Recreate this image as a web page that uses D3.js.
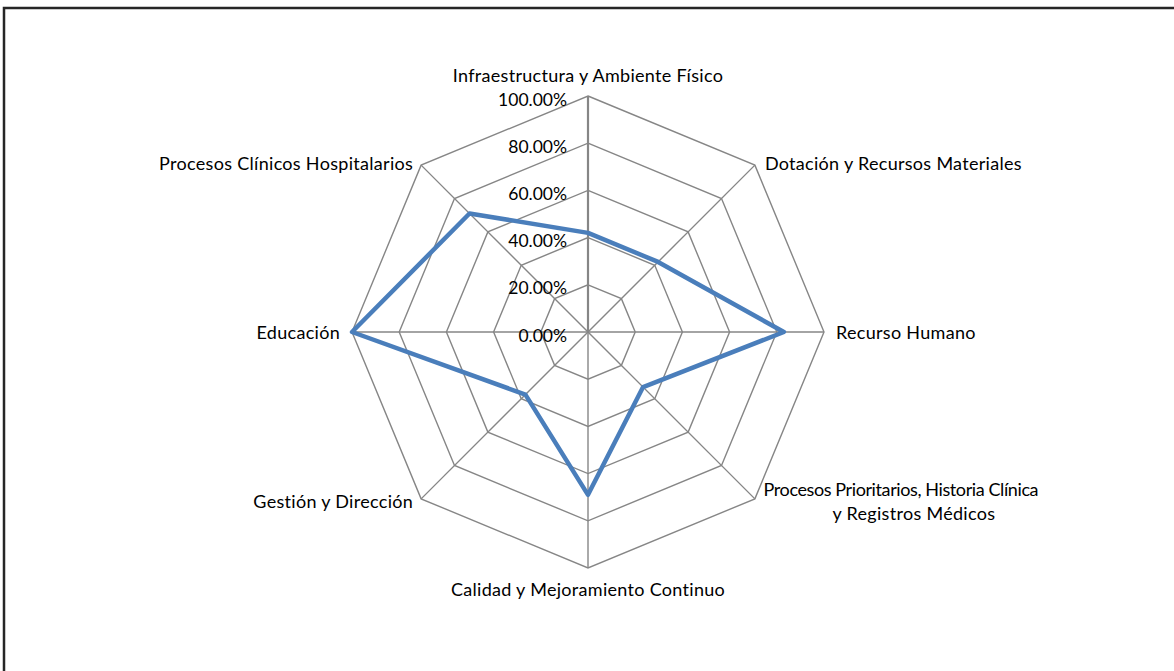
<!DOCTYPE html>
<html lang="es">
<head>
<meta charset="UTF-8">
<title>Radar</title>
<script src="https://d3js.org/d3.v7.min.js"></script>
<style>
  body { margin: 0; background: #fff; }
  svg text { font-family: "Lato", "Open Sans", sans-serif; fill: #000; }
</style>
</head>
<body>
<div id="chart"></div>
<script>
// categories, clockwise from the top
var categories = [
  "Infraestructura y Ambiente Físico",
  "Dotación y Recursos Materiales",
  "Recurso Humano",
  "Procesos Prioritarios, Historia Clínica|y Registros Médicos",
  "Calidad y Mejoramiento Continuo",
  "Gestión y Dirección",
  "Educación",
  "Procesos Clínicos Hospitalarios"
];
var values = [0.42, 0.42, 0.83, 0.33, 0.69, 0.375, 1.0, 0.71];
var ticks = [0, 0.2, 0.4, 0.6, 0.8, 1.0];

var width = 1174, height = 671;
var cx = 588, cy = 332, R = 236;

var svg = d3.select("#chart").append("svg")
    .attr("width", width)
    .attr("height", height);

// chart area border (right and bottom fall outside the picture)
svg.append("rect")
    .attr("x", 4).attr("y", 8)
    .attr("width", 1200).attr("height", 700)
    .attr("fill", "none")
    .attr("stroke", "#262626")
    .attr("stroke-width", 2.5);

var r = d3.scaleLinear().domain([0, 1]).range([0, R]);
var angle = d3.scaleLinear().domain([0, categories.length]).range([0, 2 * Math.PI]);

var g = svg.append("g").attr("transform", "translate(" + cx + "," + cy + ")");

// grid rings
var ring = d3.lineRadial().curve(d3.curveLinearClosed);
g.selectAll(".ring")
  .data(ticks.slice(1))
  .enter().append("path")
    .attr("d", function(t) {
      return ring(categories.map(function(c, i) { return [angle(i), r(t)]; }));
    })
    .attr("fill", "none")
    .attr("stroke", "#868686")
    .attr("stroke-width", 1.4);

// spokes
g.selectAll(".spoke")
  .data(categories)
  .enter().append("line")
    .attr("x1", 0).attr("y1", 0)
    .attr("x2", function(d, i) { return r(1) * Math.sin(angle(i)); })
    .attr("y2", function(d, i) { return -r(1) * Math.cos(angle(i)); })
    .attr("stroke", "#868686")
    .attr("stroke-width", function(d, i) { return i == 0 ? 2.2 : 1.4; });

// tick labels on the vertical axis
g.selectAll(".tick")
  .data(ticks)
  .enter().append("text")
    .attr("x", -21)
    .attr("y", function(t) { return -r(t) + 3; })
    .attr("text-anchor", "end")
    .attr("dominant-baseline", "central")
    .style("font-size", "17.5px")
    .text(function(t) { return d3.format(".2%")(t); });

// the series
g.append("path")
    .datum(values)
    .attr("d", ring.angle(function(d, i) { return angle(i); }).radius(function(d) { return r(d); }))
    .attr("fill", "none")
    .attr("stroke", "#4a7ebb")
    .attr("stroke-width", 4.5)
    .attr("stroke-linejoin", "round");

// category labels
categories.forEach(function(c, i) {
  var a = angle(i), s = Math.sin(a), co = Math.cos(a);
  var x = r(1) * s, y = -r(1) * co;
  var anchor = "middle";
  if (s > 0.01) { anchor = "start"; x += Math.abs(co) < 0.01 ? 12 : 10; }
  if (s < -0.01) { anchor = "end"; x -= Math.abs(co) < 0.01 ? 12 : 8; }
  if (Math.abs(s) < 0.01) y -= co * 21; else y -= co * 3;
  var lines = c.split("|");
  var t = g.append("text")
      .attr("text-anchor", anchor)
      .style("font-size", "18px")
      .style("letter-spacing", "0.3px");
  if (lines.length > 1) {
    // wrapped label, centred to the right of its spoke
    t.attr("text-anchor", "middle");
    lines.forEach(function(l, k) {
      t.append("tspan")
        .attr("x", x + 136 + k * 13)
        .attr("y", y + (k - (lines.length - 1) / 2) * 24)
        .attr("dominant-baseline", "central")
        .style("letter-spacing", k == 0 ? "-0.4px" : "0.3px")
        .text(l);
    });
  } else {
    t.attr("x", x).attr("y", y).attr("dominant-baseline", "central").text(c);
  }
});
</script>
</body>
</html>
